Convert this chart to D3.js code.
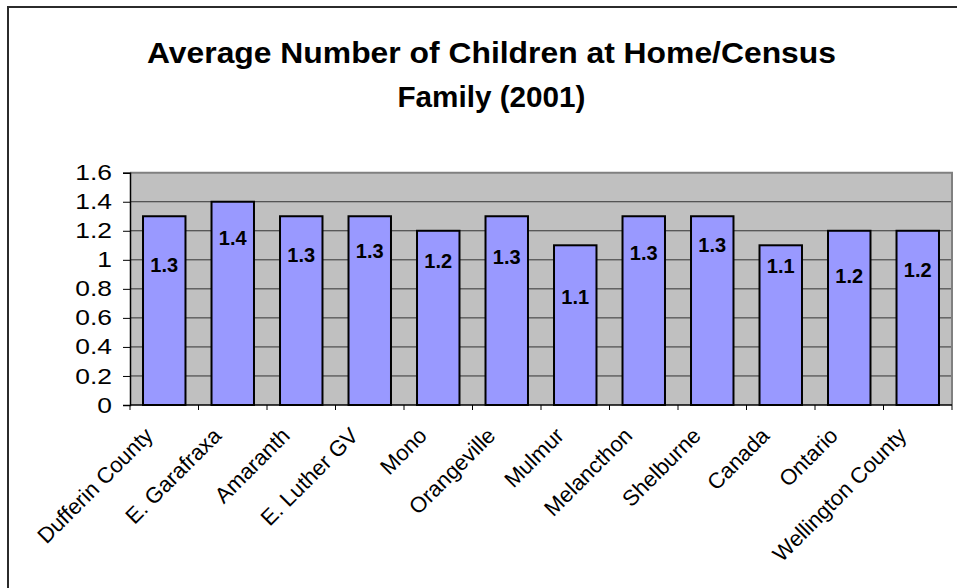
<!DOCTYPE html>
<html>
<head>
<meta charset="utf-8">
<script src="https://cdn.jsdelivr.net/npm/d3@7"></script>
<style>
  html, body { margin: 0; padding: 0; background: #ffffff; }
  svg { display: block; font-family: Arial, "Liberation Sans", sans-serif; }
</style>
</head>
<body>
<svg id="chart" width="957" height="588"></svg>
<script>
// Census areas shown along the category axis
const categories = [
  "Dufferin County", "E. Garafraxa", "Amaranth", "E. Luther GV", "Mono",
  "Orangeville", "Mulmur", "Melancthon", "Shelburne", "Canada",
  "Ontario", "Wellington County"
];

// Average number of children at home per census family, 2001
const values = [1.3, 1.4, 1.3, 1.3, 1.2, 1.3, 1.1, 1.3, 1.3, 1.1, 1.2, 1.2];

// Value-axis ticks
const yTicks = [0, 0.2, 0.4, 0.6, 0.8, 1, 1.2, 1.4, 1.6];

const titleLines = ["Average Number of Children at Home/Census", "Family (2001)"];

// How far each value label sits below the top of its bar (px)
const labelDrop = [49, 36, 39, 35, 30, 41, 52, 37, 29, 21, 45, 39];

const svg = d3.select("#chart");
const W = 957, H = 588;

// Outer chart frame (its right and bottom edges run past the page)
svg.append("rect")
  .attr("x", 8).attr("y", 7)
  .attr("width", W + 20).attr("height", H + 20)
  .attr("fill", "#ffffff")
  .attr("stroke", "#2b2b2b")
  .attr("stroke-width", 2);

// Title, set slightly wide like the original chart lettering
const titleWidths = [689, 188];
titleLines.forEach((line, i) => {
  svg.append("text")
    .attr("x", 491.5 - titleWidths[i] / 2)
    .attr("y", 63 + i * 44)
    .attr("textLength", titleWidths[i])
    .attr("lengthAdjust", "spacingAndGlyphs")
    .attr("font-size", 30)
    .attr("font-weight", "bold")
    .attr("fill", "#000")
    .text(line);
});

// Plot area
const plot = { left: 130, right: 952, top: 172.7, bottom: 405 };

const x = d3.scaleBand()
  .domain(categories)
  .range([plot.left, plot.right])
  .paddingInner(0.38)
  .paddingOuter(0.19);

const y = d3.scaleLinear()
  .domain([0, 1.6])
  .range([plot.bottom, plot.top]);

svg.append("rect")
  .attr("x", plot.left).attr("y", plot.top)
  .attr("width", plot.right - plot.left)
  .attr("height", plot.bottom - plot.top)
  .attr("fill", "#c0c0c0");

// Horizontal gridlines
svg.append("g")
  .selectAll("line")
  .data(yTicks.filter(t => t > 0 && t < 1.6))
  .join("line")
  .attr("x1", plot.left).attr("x2", plot.right)
  .attr("y1", d => y(d)).attr("y2", d => y(d))
  .attr("stroke", "#333333")
  .attr("stroke-width", 1);

// Plot-area border on top and right
svg.append("path")
  .attr("d", `M${plot.left},${plot.top}H${plot.right}V${plot.bottom}`)
  .attr("fill", "none")
  .attr("stroke", "#808080")
  .attr("stroke-width", 2);

// Bars
svg.append("g")
  .selectAll("rect")
  .data(values)
  .join("rect")
  .attr("x", (d, i) => x(categories[i]))
  .attr("y", d => y(d))
  .attr("width", x.bandwidth())
  .attr("height", d => y(0) - y(d))
  .attr("fill", "#9999ff")
  .attr("stroke", "#000")
  .attr("stroke-width", 2);

// Value labels
svg.append("g")
  .selectAll("text")
  .data(values)
  .join("text")
  .attr("x", (d, i) => x(categories[i]) + x.bandwidth() / 2)
  .attr("y", (d, i) => y(d) + labelDrop[i])
  .attr("dy", "0.36em")
  .attr("text-anchor", "middle")
  .attr("font-size", 20)
  .attr("font-weight", "bold")
  .attr("fill", "#000")
  .text(d => d3.format(".1f")(d));

// Value axis (labels drawn a little wide)
const yAxis = svg.append("g")
  .attr("transform", `translate(${plot.left},0)`)
  .call(d3.axisLeft(y).tickValues(yTicks).tickSize(7).tickPadding(8)
    .tickFormat(d => String(+d.toFixed(1))));
yAxis.select(".domain").attr("stroke", "#000").attr("stroke-width", 1.5);
yAxis.selectAll(".tick line").attr("stroke", "#000");
yAxis.selectAll(".tick text")
  .attr("font-size", 22)
  .attr("font-family", "Arial, 'Liberation Sans', sans-serif")
  .attr("fill", "#000")
  .attr("transform", "scale(1.2,1)");

// Category axis: ticks sit on the boundaries between categories
const step = x.step();
const boundaries = d3.range(categories.length + 1).map(i => plot.left + i * step);
svg.append("line")
  .attr("x1", plot.left).attr("x2", plot.right)
  .attr("y1", plot.bottom).attr("y2", plot.bottom)
  .attr("stroke", "#000").attr("stroke-width", 1.5);
svg.append("g")
  .selectAll("line")
  .data(boundaries)
  .join("line")
  .attr("x1", d => d).attr("x2", d => d)
  .attr("y1", plot.bottom).attr("y2", plot.bottom + 5)
  .attr("stroke", "#000");

svg.append("g")
  .selectAll("text")
  .data(categories)
  .join("text")
  .attr("transform", d => `translate(${x(d) + x.bandwidth() / 2 - 10},${plot.bottom + 32}) rotate(-45)`)
  .attr("text-anchor", "end")
  .attr("font-size", 22)
  .attr("fill", "#000")
  .text(d => d);
</script>
</body>
</html>
